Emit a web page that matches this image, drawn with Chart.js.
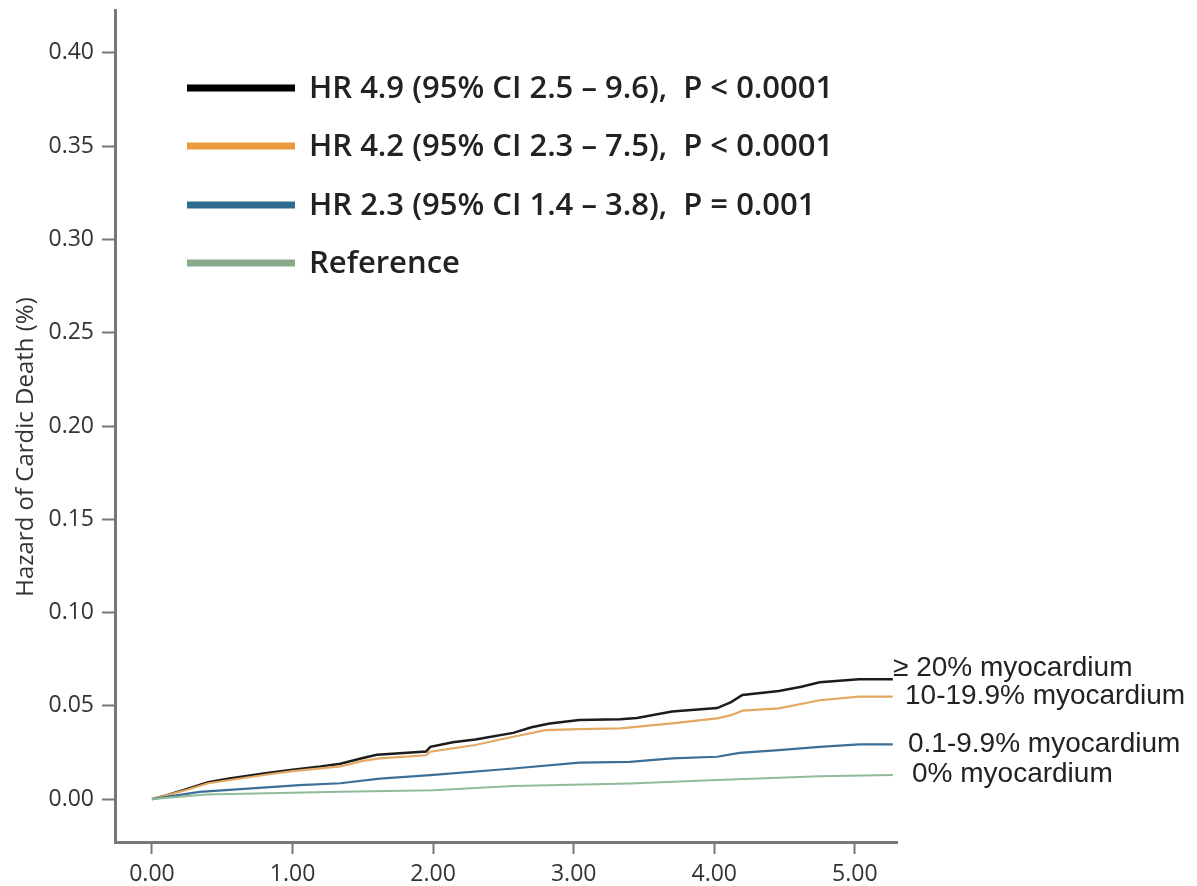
<!DOCTYPE html>
<html>
<head>
<meta charset="utf-8">
<script src="https://cdn.jsdelivr.net/npm/chart.js@4.4.1/dist/chart.umd.min.js"></script>
<style>
  html, body { margin: 0; padding: 0; background: #fff; }
  #wrap { width: 1197px; height: 886px; position: relative; }
</style>
</head>
<body>
<div id="wrap"><canvas id="c" width="1197" height="886"></canvas></div>
<script>
// ---- data ----
const seriesNames = ["≥ 20% myocardium", "10-19.9% myocardium", "0.1-9.9% myocardium", "0% myocardium"];
const legendLabels = [
  "HR 4.9 (95% CI 2.5 \u2013 9.6),  P < 0.0001",
  "HR 4.2 (95% CI 2.3 \u2013 7.5),  P < 0.0001",
  "HR 2.3 (95% CI 1.4 \u2013 3.8),  P = 0.001",
  "Reference"
];
const xTickValues = [0, 1, 2, 3, 4, 5];
const yTickValues = [0, 0.05, 0.10, 0.15, 0.20, 0.25, 0.30, 0.35, 0.40];
const yAxisTitle = "Hazard of Cardic Death (%)";

const t20 = [0, 0.1, 0.25, 0.4, 0.55, 0.82, 1.0, 1.2, 1.34, 1.5, 1.6, 1.95, 1.98, 2.14, 2.3, 2.57, 2.7, 2.83, 3.04, 3.33, 3.45, 3.7, 4.02, 4.12, 4.2, 4.46, 4.62, 4.75, 5.03, 5.27];
const v20 = [0, 0.002, 0.0055, 0.009, 0.011, 0.014, 0.0158, 0.0175, 0.019, 0.022, 0.0238, 0.0255, 0.028, 0.0305, 0.032, 0.0355, 0.0385, 0.0405, 0.0424, 0.0428, 0.0435, 0.047, 0.0488, 0.052, 0.0558, 0.058, 0.0602, 0.0626, 0.0642, 0.0642];

const t10 = [0, 0.25, 0.4, 0.82, 1.0, 1.34, 1.5, 1.62, 1.95, 1.98, 2.3, 2.57, 2.8, 3.04, 3.33, 3.7, 4.02, 4.12, 4.2, 4.46, 4.75, 5.03, 5.27];
const v10 = [0, 0.005, 0.0085, 0.0132, 0.015, 0.0175, 0.0205, 0.0218, 0.0235, 0.0254, 0.029, 0.0334, 0.037, 0.0375, 0.0379, 0.0406, 0.0433, 0.045, 0.0474, 0.0486, 0.053, 0.0549, 0.0549];

const t01 = [0, 0.34, 1.05, 1.34, 1.62, 1.98, 2.57, 3.04, 3.4, 3.7, 4.02, 4.18, 4.46, 4.75, 5.03, 5.27];
const v01 = [0, 0.0039, 0.0075, 0.0085, 0.011, 0.0129, 0.0164, 0.0195, 0.02, 0.0218, 0.0227, 0.0248, 0.0263, 0.028, 0.0293, 0.0293];

const t0 = [0, 0.39, 1.34, 2.0, 2.57, 3.4, 4.02, 4.75, 5.27];
const v0 = [0, 0.0025, 0.0039, 0.0047, 0.007, 0.0084, 0.0102, 0.0123, 0.0129];

// ---- styling ----
const lineColors = ["#1c1c1c", "#e3a862", "#3b6f98", "#8fbb9a"];
const lineWidths = [2.5, 2.2, 2.2, 2];
const swatchColors = ["#000000", "#e99b3d", "#2b6c8c", "#8aa98a"];

function pts(t, v) { return t.map((x, i) => ({ x: x, y: v[i] })); }
const allT = [t20, t10, t01, t0];
const allV = [v20, v10, v01, v0];

const datasets = allT.map((t, i) => ({
  label: legendLabels[i],
  data: pts(t, allV[i]),
  borderColor: lineColors[i],
  borderWidth: lineWidths[i],
  pointRadius: 0,
  tension: 0,
  fill: false
}));
datasets.reverse(); // draw black last (on top)

const overlay = {
  id: 'overlay',
  afterDraw(chart) {
    const ctx = chart.ctx;
    ctx.save();
    // legend
    const legY = [88, 146, 205, 263];
    ctx.font = '600 31px "Open Sans"';
    ctx.textBaseline = 'middle';
    ctx.textAlign = 'left';
    for (let i = 0; i < 4; i++) {
      ctx.strokeStyle = swatchColors[i];
      ctx.lineWidth = 7;
      ctx.lineCap = 'butt';
      ctx.beginPath();
      ctx.moveTo(187, legY[i]);
      ctx.lineTo(295, legY[i]);
      ctx.stroke();
      ctx.fillStyle = '#222';
      ctx.fillText(legendLabels[i], 309, legY[i] + 1);
    }
    // end-of-curve labels
    ctx.font = '28px "Liberation Sans"';
    ctx.fillStyle = '#222';
    const labX = [893, 905, 908, 912];
    const labY = [668, 696, 744, 774];
    for (let i = 0; i < 4; i++) ctx.fillText(seriesNames[i], labX[i], labY[i]);
    // y axis title
    ctx.translate(26, 447);
    ctx.rotate(-Math.PI / 2);
    ctx.textAlign = 'center';
    ctx.font = '24px "Open Sans"';
    ctx.fillStyle = '#333';
    ctx.fillText(yAxisTitle, 0, 0);
    ctx.restore();
  }
};

new Chart(document.getElementById('c'), {
  type: 'line',
  data: { datasets: datasets },
  options: {
    responsive: false,
    animation: false,
    layout: { padding: { left: 0, right: 300, top: 10, bottom: 0 } },
    plugins: { legend: { display: false }, tooltip: { enabled: false } },
    scales: {
      x: {
        type: 'linear',
        min: -0.263, max: 5.3,
        afterBuildTicks: (s) => { s.ticks = xTickValues.map(v => ({ value: v })); },
        afterFit: (s) => { s.height = 44; s.paddingLeft = 0; s.paddingRight = 0; },
        border: { color: '#777', width: 3 },
        grid: { drawOnChartArea: false, drawTicks: true, tickLength: 12, tickColor: '#777', tickWidth: 2 },
        ticks: { color: '#333', font: { family: 'Open Sans', size: 23 }, padding: 7, maxRotation: 0,
                 callback: (v) => Number(v).toFixed(2) }
      },
      y: {
        type: 'linear',
        min: -0.023, max: 0.423,
        afterBuildTicks: (s) => { s.ticks = yTickValues.map(v => ({ value: v })); },
        afterFit: (s) => { s.width = 115; s.paddingTop = 0; s.paddingBottom = 0; },
        border: { color: '#777', width: 3 },
        grid: { drawOnChartArea: false, drawTicks: true, tickLength: 13, tickColor: '#777', tickWidth: 2 },
        ticks: { color: '#333', font: { family: 'Open Sans', size: 23 }, padding: 8,
                 callback: (v) => Number(v).toFixed(2) }
      }
    }
  },
  plugins: [overlay]
});
</script>
</body>
</html>
